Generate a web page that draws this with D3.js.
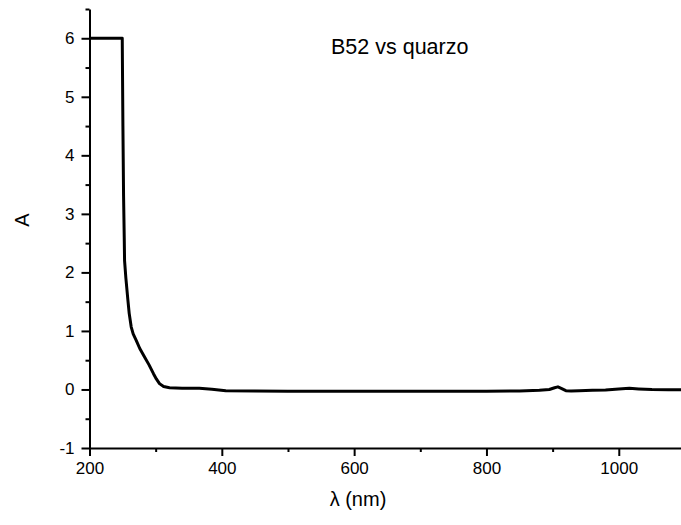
<!DOCTYPE html>
<html>
<head>
<meta charset="utf-8">
<script src="https://cdn.jsdelivr.net/npm/d3@7"></script>
<style>
  body { margin: 0; background: #fff; }
  text { font-family: "Liberation Sans", Arial, sans-serif; fill: #000; }
</style>
</head>
<body>
<script>
// Spectrum: wavelength (nm) and absorbance
const wavelength = [200, 249.5, 250.5, 251.5, 252.5, 253, 255, 258, 260, 263, 266, 270.6, 276, 283, 290, 296.7, 301, 305.8, 312, 321, 340, 366, 385, 406, 450, 500, 600, 700, 800, 850, 880, 895, 903, 908, 913, 920, 928, 940, 960, 980, 1000, 1016, 1030, 1050, 1075, 1100];
const absorbance = [6, 6, 4.5, 3.3, 2.6, 2.2, 1.9, 1.53, 1.3, 1.07, 0.95, 0.84, 0.7, 0.56, 0.42, 0.27, 0.18, 0.1, 0.05, 0.03, 0.02, 0.02, 0.005, -0.02, -0.025, -0.03, -0.03, -0.03, -0.03, -0.025, -0.015, 0, 0.03, 0.045, 0.02, -0.02, -0.025, -0.02, -0.015, -0.01, 0.01, 0.02, 0.01, 0, -0.005, -0.005];
const xTicks = [200, 400, 600, 800, 1000];
const yTicks = [-1, 0, 1, 2, 3, 4, 5, 6];
const title = "B52 vs quarzo";

const W = 681, H = 525;
const plotLeft = 89.5, plotTop = 9, plotBottom = 448;

const svg = d3.select("body").append("svg")
  .attr("width", W)
  .attr("height", H);

const x = d3.scaleLinear().domain([200, 1100]).range([plotLeft, plotLeft + 900 * 0.6616]);
const y = d3.scaleLinear().domain([-1, 6.5]).range([plotBottom, plotTop]);
const plain = d => String(d);

// x axis, major + minor ticks
const gx = svg.append("g").attr("transform", `translate(0,${plotBottom})`);
gx.call(d3.axisBottom(x).tickValues(d3.range(300, 1100, 200)).tickSize(4).tickFormat(""));
gx.call(g => g.select(".domain").remove());
const gx2 = svg.append("g").attr("transform", `translate(0,${plotBottom})`);
gx2.call(d3.axisBottom(x).tickValues(xTicks).tickSize(8).tickSizeOuter(0).tickPadding(6).tickFormat(plain));

// y axis
const gy = svg.append("g").attr("transform", `translate(${plotLeft},0)`);
gy.call(d3.axisLeft(y).tickValues(d3.range(-0.5, 6.6, 1)).tickSize(4).tickFormat(""));
gy.call(g => g.select(".domain").remove());
const gy2 = svg.append("g").attr("transform", `translate(${plotLeft},0)`);
gy2.call(d3.axisLeft(y).tickValues(yTicks).tickSize(8).tickSizeOuter(0).tickPadding(7).tickFormat(plain));

svg.selectAll(".domain, .tick line").attr("stroke", "#000").attr("stroke-width", 2);
svg.selectAll(".tick text").style("font-size", "17px").style("font-family", "Liberation Sans, Arial, sans-serif");

// spectrum line
const pts = wavelength.map((w, i) => [w, absorbance[i]]);
svg.append("path")
  .datum(pts)
  .attr("fill", "none")
  .attr("stroke", "#000")
  .attr("stroke-width", 3)
  .attr("stroke-linejoin", "round")
  .attr("d", d3.line().x(d => x(d[0])).y(d => y(d[1])));

// labels
svg.append("text")
  .attr("x", 331).attr("y", 54)
  .style("font-size", "21.5px")
  .text(title);

svg.append("text")
  .attr("x", 358).attr("y", 506)
  .attr("text-anchor", "middle")
  .style("font-size", "20px")
  .text("λ (nm)");

svg.append("text")
  .attr("transform", "translate(29,220) rotate(-90)")
  .attr("text-anchor", "middle")
  .style("font-size", "20px")
  .text("A");
</script>
</body>
</html>
